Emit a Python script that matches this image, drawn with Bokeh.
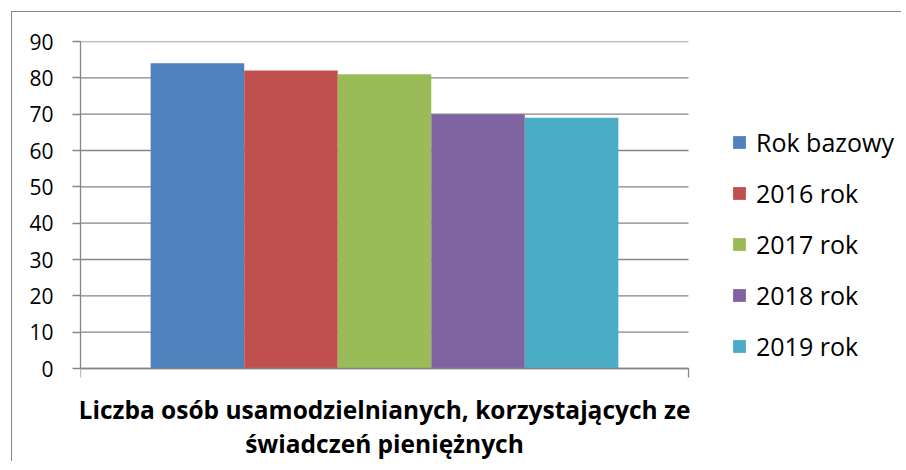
from bokeh.plotting import figure
from bokeh.models import (Range1d, FixedTicker, Label, Legend, LegendItem, ColumnDataSource)
from bokeh.embed import file_html
from bokeh.resources import INLINE

# ---- data ----
category_lines = ["Liczba osób usamodzielnianych, korzystających ze", "świadczeń pieniężnych"]
category = " ".join(category_lines)
series = ["Rok bazowy", "2016 rok", "2017 rok", "2018 rok", "2019 rok"]
values = [84, 82, 81, 70, 69]
colors = ["#4F81BD", "#C0504D", "#9BBB59", "#8064A2", "#4BACC6"]
y_ticks = [0, 10, 20, 30, 40, 50, 60, 70, 80, 90]

GRAY = "#868686"
FONT = "Open Sans"

# ---- layout (pixels) ----
W, H = 890, 450
LEFT, TOP = 68, 29
CAT_PX = 608          # width of the category band
PLOT_PX = 327         # height of the 0..90 value band
px_per_unit = PLOT_PX / (max(y_ticks) - min(y_ticks))

x_max = (W - LEFT) / CAT_PX                       # category spans [0, 1]
y_min = -((H - TOP) - PLOT_PX) / px_per_unit      # room below the axis for the label

p = figure(width=W, height=H,
           x_range=Range1d(0, x_max), y_range=Range1d(y_min, max(y_ticks)),
           output_backend="svg", toolbar_location=None,
           min_border_left=LEFT, min_border_right=0,
           min_border_top=TOP, min_border_bottom=0)
p.margin = (11, 0, 0, 11)
p.styles = {"border-top": "1px solid #868686", "border-left": "1px solid #868686"}
p.outline_line_color = None
p.background_fill_color = "white"
p.border_fill_color = "white"
p.xgrid.visible = False
p.ygrid.visible = False

# gridlines across the category band
p.segment(x0=0, x1=1, y0=y_ticks, y1=y_ticks, line_color=GRAY, line_width=1.3)

n = len(series)
gap_ratio = 1.5                      # Excel gap width 150 %
bar_w = 1.0 / (n + gap_ratio)
xs = [0.5 + (i - (n - 1) / 2) * bar_w for i in range(n)]
items = []
for s, v, c, x in zip(series, values, colors, xs):
    src = ColumnDataSource(dict(x=[x], top=[v], name=[s], cat=[category]))
    r = p.vbar(x="x", top="top", width=bar_w, source=src,
               fill_color=c, line_color=None)
    items.append(LegendItem(label=s, renderers=[r]))

# y axis
p.yaxis.ticker = FixedTicker(ticks=y_ticks)
p.yaxis.bounds = (min(y_ticks), max(y_ticks))
p.yaxis.major_tick_out = 8
p.yaxis.major_tick_in = 0
p.yaxis.minor_tick_line_color = None
p.yaxis.axis_line_color = GRAY
p.yaxis.major_tick_line_color = GRAY
p.yaxis.axis_line_width = 1.3
p.yaxis.major_tick_line_width = 1.3
p.yaxis.major_label_standoff = 19
p.yaxis.major_label_text_font = FONT
p.yaxis.major_label_text_font_size = "21px"
p.yaxis.major_label_text_color = "#000000"

# x axis at y = 0 across the category band
p.xaxis.fixed_location = 0
p.xaxis.bounds = (0, 1)
p.xaxis.ticker = FixedTicker(ticks=[])
p.xaxis.minor_tick_line_color = None
p.xaxis.major_tick_line_color = None
p.xaxis.axis_line_color = GRAY
p.xaxis.axis_line_width = 1.3
# boundary ticks of the category (9 px long, below the axis)
p.segment(x0=[0, 1], x1=[0, 1], y0=0, y1=-9 / px_per_unit,
          line_color=GRAY, line_width=1.3)

# category label (two lines) below the axis
for line, off in zip(category_lines, [41, 75]):
    p.add_layout(Label(x=0.5, y=-off / px_per_unit,
                       text=line, text_align="center", text_baseline="alphabetic",
                       text_font=FONT, text_font_style="bold",
                       text_font_size="24.5px", text_color="#000000"))

legend = Legend(items=items, location=(651, 99),
                glyph_width=16, glyph_height=16, label_standoff=9,
                label_height=30, spacing=17,
                label_text_font=FONT, label_text_font_size="25px",
                label_text_color="#000000",
                padding=0, margin=0, border_line_color=None,
                background_fill_alpha=0)
p.add_layout(legend, "center")

open("out.html", "w").write(file_html(p, INLINE))
